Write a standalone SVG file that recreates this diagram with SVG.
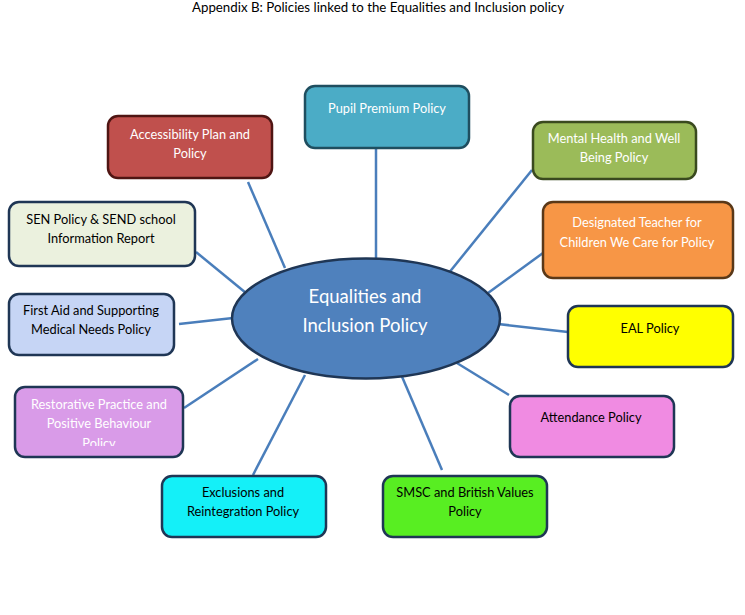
<svg xmlns="http://www.w3.org/2000/svg" width="745" height="615" viewBox="0 0 745 615">
<defs>
<style>
.box{stroke-width:2.5}
.t{font-family:Lato,"Liberation Sans",sans-serif;font-size:12.8px;text-anchor:middle}
.w{fill:#ffffff}
.k{fill:#000000}
.c{stroke:#4A7EBB;stroke-width:2.5;fill:none}
.ct{font-family:Lato,"Liberation Sans",sans-serif;font-size:18.5px;text-anchor:middle;fill:#ffffff}
</style>
<clipPath id="clipR"><rect x="15" y="387" width="168" height="59"/></clipPath>
</defs>
<rect width="745" height="615" fill="#ffffff"/>
<text x="378" y="12" font-family="Lato,'Liberation Sans',sans-serif" font-size="13.3" text-anchor="middle" fill="#000">Appendix B: Policies linked to the Equalities and Inclusion policy</text>
<g id="connectors">
<line class="c" x1="376" y1="148" x2="376" y2="262"/>
<line class="c" x1="248" y1="182" x2="285" y2="268"/>
<line class="c" x1="196" y1="252" x2="246" y2="293"/>
<line class="c" x1="179" y1="324" x2="233" y2="318"/>
<line class="c" x1="184" y1="408" x2="258" y2="359"/>
<line class="c" x1="253" y1="475" x2="305" y2="375"/>
<line class="c" x1="442" y1="470" x2="400" y2="372"/>
<line class="c" x1="509" y1="395" x2="452" y2="360"/>
<line class="c" x1="568" y1="332" x2="498" y2="324"/>
<line class="c" x1="543" y1="253" x2="488" y2="293"/>
<line class="c" x1="532" y1="170" x2="448" y2="274"/>
</g>
<g id="center">
<ellipse cx="366" cy="318.5" rx="134" ry="60" fill="#4F81BD" stroke="#1F3655" stroke-width="2.5"/>
<text class="ct" x="365" y="303">Equalities and</text>
<text class="ct" x="365" y="332">Inclusion Policy</text>
</g>
<g id="pupil">
<rect class="box" x="305" y="86" width="164" height="62" rx="10" fill="#4BACC6" stroke="#1F4E5F"/>
<text class="t w" x="387" y="113">Pupil Premium Policy</text>
</g>
<g id="accessibility">
<rect class="box" x="108" y="116" width="164" height="62" rx="10" fill="#C0504D" stroke="#4F1513"/>
<text class="t w" x="190" y="139">Accessibility Plan and</text>
<text class="t w" x="190" y="158">Policy</text>
</g>
<g id="sen">
<rect class="box" x="9" y="202" width="186" height="64" rx="10" fill="#EBF1DE" stroke="#1F3655"/>
<text class="t k" x="101" y="224">SEN Policy &amp; SEND school</text>
<text class="t k" x="101" y="243">Information Report</text>
</g>
<g id="mental">
<rect class="box" x="533" y="122" width="163" height="57" rx="10" fill="#9BBB59" stroke="#3A4A1F"/>
<text class="t w" x="614" y="143">Mental Health and Well</text>
<text class="t w" x="614" y="162">Being Policy</text>
</g>
<g id="designated">
<rect class="box" x="543" y="202" width="190" height="76" rx="10" fill="#F79646" stroke="#5A3818"/>
<text class="t w" x="637" y="227">Designated Teacher for</text>
<text class="t w" x="637" y="247">Children We Care for Policy</text>
</g>
<g id="firstaid">
<rect class="box" x="9" y="294" width="165" height="61" rx="10" fill="#C6D5F5" stroke="#1F3655"/>
<text class="t k" x="91" y="315">First Aid and Supporting</text>
<text class="t k" x="91" y="334">Medical Needs Policy</text>
</g>
<g id="eal">
<rect class="box" x="568" y="306" width="165" height="61" rx="10" fill="#FFFF00" stroke="#1F3655"/>
<text class="t k" x="650" y="333">EAL Policy</text>
</g>
<g id="restorative">
<rect class="box" x="15" y="387" width="168" height="70" rx="10" fill="#D99BE8" stroke="#1F3655"/>
<g clip-path="url(#clipR)">
<text class="t w" x="99" y="409">Restorative Practice and</text>
<text class="t w" x="99" y="428">Positive Behaviour</text>
<text class="t w" x="99" y="448">Policy</text>
</g>
</g>
<g id="attendance">
<rect class="box" x="510" y="396" width="164" height="61" rx="10" fill="#F08BE2" stroke="#1F3655"/>
<text class="t k" x="591" y="422">Attendance Policy</text>
</g>
<g id="exclusions">
<rect class="box" x="162" y="476" width="164" height="61" rx="10" fill="#14F0F8" stroke="#1F3655"/>
<text class="t k" x="243" y="497">Exclusions and</text>
<text class="t k" x="243" y="516">Reintegration Policy</text>
</g>
<g id="smsc">
<rect class="box" x="383" y="476" width="164" height="61" rx="10" fill="#58EE22" stroke="#1F3655"/>
<text class="t k" x="465" y="497">SMSC and British Values</text>
<text class="t k" x="465" y="516">Policy</text>
</g>
</svg>
